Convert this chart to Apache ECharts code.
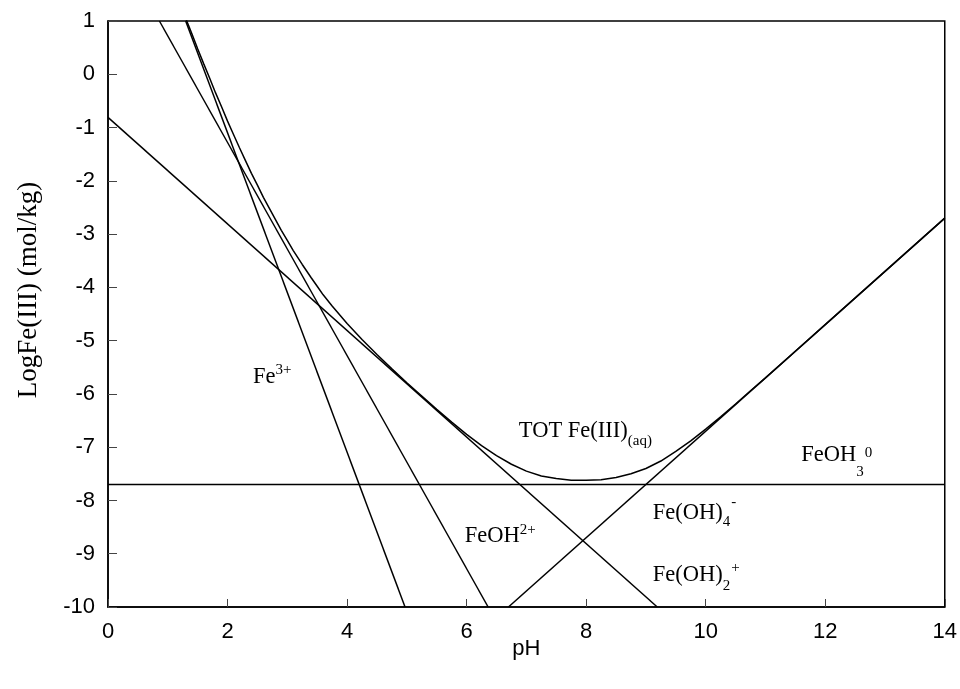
<!DOCTYPE html>
<html><head><meta charset="utf-8">
<script src="https://cdn.jsdelivr.net/npm/echarts@6/dist/echarts.min.js"></script>
<style>html,body{margin:0;padding:0;background:#fff}#c{width:960px;height:689px}</style>
</head><body><div id="c"></div>
<script>
// Species lines: endpoints [pH, log]
const fe3 = [[1.30, 1.0], [4.97, -10]];
const feoh2 = [[0.86, 1.0], [6.36, -10]];
const feoh2p = [[0, -0.81], [9.19, -10]];
const feoh3 = [[0, -7.7], [14, -7.7]];
const feoh4 = [[6.70, -10], [14, -2.7]];
// Total dissolved Fe(III) curve
const totX = [1.3,1.35,1.4,1.5,1.6,1.7,1.8,1.9,2,2.1,2.2,2.3,2.4,2.5,2.6,2.75,2.9,3,3.1,3.25,3.4,3.5,3.6,3.75,4,4.25,4.5,4.75,5,5.25,5.5,5.75,6,6.25,6.5,6.75,7,7.25,7.5,7.75,8,8.25,8.5,8.75,9,9.25,9.5,9.75,10,10.25,10.5,10.75,11,11.5,12,13,14];
const totY = [1.05,0.91,0.77,0.48,0.20,-0.07,-0.35,-0.61,-0.88,-1.13,-1.38,-1.62,-1.86,-2.08,-2.31,-2.62,-2.93,-3.12,-3.31,-3.57,-3.82,-3.98,-4.14,-4.35,-4.68,-4.98,-5.26,-5.53,-5.79,-6.04,-6.29,-6.53,-6.76,-6.97,-7.16,-7.32,-7.45,-7.54,-7.59,-7.62,-7.62,-7.61,-7.57,-7.50,-7.40,-7.26,-7.08,-6.88,-6.66,-6.43,-6.19,-5.94,-5.70,-5.20,-4.70,-3.70,-2.70];
const xTicks = [0,2,4,6,8,10,12,14];
const yTicks = [-10,-9,-8,-7,-6,-5,-4,-3,-2,-1,0,1];
// Annotation texts: [main, subscript, superscript]
const labelText = [
  ['Fe', '', '3+'],
  ['TOT Fe(III)', '(aq)', ''],
  ['FeOH', '3', '0'],
  ['Fe(OH)', '4', '-'],
  ['FeOH', '', '2+'],
  ['Fe(OH)', '2', '+']
];
// Annotation layout: [pH, log of main baseline start, sub dy px, sup dy px]
const labelLayout = [
  [2.425, -5.83, 0, -10],
  [6.874, -6.83, 8, 0],
  [11.60, -7.28, 15, -4],
  [9.115, -8.38, 6, -14],
  [5.97, -8.80, 0, -8],
  [9.115, -9.55, 8, -10]
];

const chart = echarts.init(document.getElementById('c'), null, {renderer:'canvas'});
const lineStyle = {color:'#000', width:1.5};
function ser(d){return {type:'line', data:d, symbol:'none', lineStyle:lineStyle, clip:true, silent:true, animation:false};}
const option = {
  animation:false,
  grid:{left:108, right:15, top:21, bottom:82, show:true, borderColor:'#000', borderWidth:1.5, backgroundColor:'transparent'},
  xAxis:{type:'value', min:0, max:14, interval:2,
    name:'pH', nameLocation:'middle', nameGap:31, nameMoveOverlap:false,
    nameTextStyle:{fontFamily:'Liberation Sans', fontSize:22, color:'#000'},
    axisLine:{show:true, onZero:false, lineStyle:{color:'#000', width:1.5}},
    axisTick:{show:true, inside:true, length:8, lineStyle:{color:'#444', width:1}},
    axisLabel:{fontFamily:'Liberation Sans', fontSize:22, color:'#000', margin:14,
      formatter:function(v){return xTicks.indexOf(v)>=0?String(v):'';}},
    splitLine:{show:false}},
  yAxis:{type:'value', min:-10, max:1, interval:1,
    name:'LogFe(III) (mol/kg)', nameLocation:'middle', nameGap:66, nameMoveOverlap:false,
    nameTextStyle:{fontFamily:'Liberation Serif', fontSize:27, color:'#000', padding:[0,0,0,48]},
    axisLine:{show:true, onZero:false, lineStyle:{color:'#000', width:1.5}},
    axisTick:{show:true, inside:true, length:9, lineStyle:{color:'#444', width:1}},
    axisLabel:{fontFamily:'Liberation Sans', fontSize:22, color:'#000', margin:13,
      formatter:function(v){return yTicks.indexOf(v)>=0?String(v):'';}},
    splitLine:{show:false}},
  series:[
    ser(fe3), ser(feoh2), ser(feoh2p), ser(feoh3), ser(feoh4),
    ser(totX.map((x,i)=>[x,totY[i]]))
  ]
};
chart.setOption(option);

const MF = 22.5, SF = 15, FAM = 'Liberation Serif';
const cv = document.createElement('canvas').getContext('2d');
function tw(t, s){cv.font = s+'px "'+FAM+'"'; return cv.measureText(t).width;}
function txt(t, x, baseY, size){
  return {type:'text', x:x, y:baseY + 0.18*size, silent:true,
    style:{text:t, font:size+'px "'+FAM+'"', fill:'#000', align:'left', verticalAlign:'bottom'}};
}
const graphics = [];
labelText.forEach(function(l, i){
  const lay = labelLayout[i];
  const p = chart.convertToPixel({gridIndex:0}, [lay[0], lay[1]]);
  const bx = p[0], by = p[1];
  const mw = tw(l[0], MF);
  graphics.push(txt(l[0], bx, by, MF));
  if (l[1]) graphics.push(txt(l[1], bx+mw, by+lay[2], SF));
  if (l[2]) {
    const off = l[1] ? tw(l[1], SF) + 1 : 0;
    graphics.push(txt(l[2], bx+mw+off, by+lay[3], SF));
  }
});
chart.setOption({graphic:graphics});
</script></body></html>
